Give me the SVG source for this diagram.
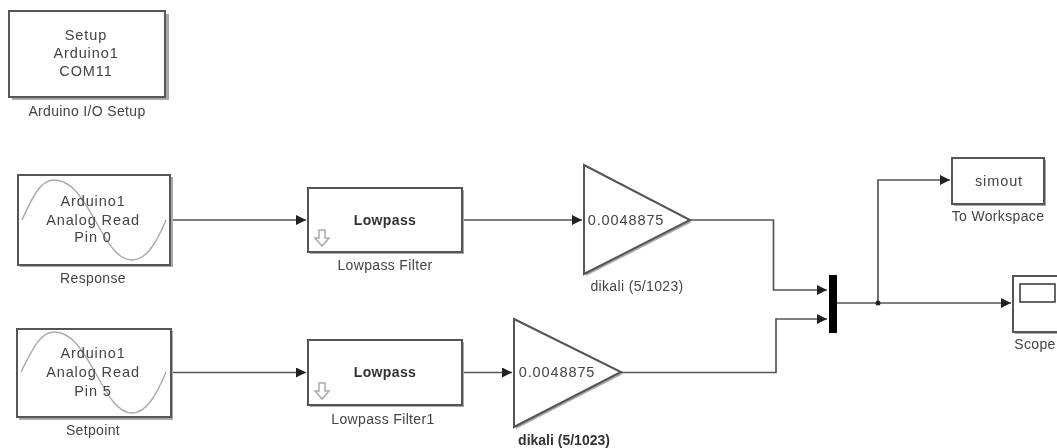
<svg xmlns="http://www.w3.org/2000/svg" width="1057" height="448" viewBox="0 0 1057 448">
<style>
text{font-family:"Liberation Sans",Arial,sans-serif;font-size:14px;letter-spacing:.35px;fill:#444;text-anchor:middle}
.b{fill:#fff;stroke:#555;stroke-width:2}
.s{fill:#aaa;stroke:none}
.w{fill:none;stroke:#555;stroke-width:1.7}
.sine{fill:none;stroke:#aaa;stroke-width:1.4}
.bold{font-weight:bold;fill:#333}
.in{font-size:14.5px;letter-spacing:.9px}
.g{font-size:14.5px;letter-spacing:.9px}
</style>
<defs>
<marker id="a" markerUnits="userSpaceOnUse" markerWidth="11" markerHeight="10" refX="10" refY="5" orient="auto"><path d="M0,0L10,5L0,10Z" fill="#222"/></marker>
<filter id="soft" x="-5%" y="-5%" width="110%" height="110%"><feGaussianBlur stdDeviation="0.75"/></filter>
</defs>
<rect width="1057" height="448" fill="#fff"/>
<g filter="url(#soft)">
<g id="connectors">
<path class="w" marker-end="url(#a)" d="M170,220H306"/>
<path class="w" marker-end="url(#a)" d="M171,372.500H306"/>
<path class="w" marker-end="url(#a)" d="M462,220H582"/>
<path class="w" marker-end="url(#a)" d="M462,372.500H512"/>
<path class="w" marker-end="url(#a)" d="M690,220H773.500V290H827"/>
<path class="w" marker-end="url(#a)" d="M621,372.500H776V319H827"/>
<path class="w" marker-end="url(#a)" d="M837,303H1011"/>
<path class="w" marker-end="url(#a)" d="M878,303V180H950"/>
<circle cx="878" cy="303" r="2.500" fill="#222"/>
</g>
<g id="setup">
<rect class="s" x="12" y="14" width="157" height="86"/>
<rect class="b" x="9" y="11" width="156" height="86"/>
<text x="86" y="40" class="in">Setup</text><text x="86" y="58" class="in">Arduino1</text><text x="86" y="76" class="in">COM11</text>
<text x="87" y="116">Arduino I/O Setup</text>
</g>
<g id="response">
<rect class="s" x="20" y="177" width="153" height="90"/>
<rect class="b" x="18" y="175" width="152" height="90"/>
<path class="sine" d="M22,220C32,198 40,180 54,180C72,180 82,198 95,220C108,244 118,260 132,260C146,260 156,244 166,220"/>
<text x="93" y="206" class="in">Arduino1</text><text x="93" y="225" class="in">Analog Read</text><text x="93" y="242" class="in">Pin 0</text>
<text x="93" y="283">Response</text>
</g>
<g id="setpoint">
<rect class="s" x="19" y="331" width="154" height="89"/>
<rect class="b" x="17" y="329" width="154" height="88"/>
<path class="sine" d="M21,372C32,350 40,332 54,332C72,332 82,350 95,372C108,396 118,413 132,413C146,413 156,396 166,372"/>
<text x="93" y="358" class="in">Arduino1</text><text x="93" y="377" class="in">Analog Read</text><text x="93" y="396" class="in">Pin 5</text>
<text x="93" y="435">Setpoint</text>
</g>
<g id="lowpass">
<rect class="s" x="310" y="190" width="154" height="64"/>
<rect class="b" x="308" y="188" width="154" height="64"/>
<text x="385" y="225" class="bold">Lowpass</text>
<path d="M319,230h6v8h4l-7,8l-7,-8h4z" fill="#fff" stroke="#aaa" stroke-width="1.500"/>
<text x="385" y="270">Lowpass Filter</text>
</g>
<g id="lowpass1">
<rect class="s" x="310" y="342" width="154" height="65"/>
<rect class="b" x="308" y="340" width="154" height="65"/>
<text x="385" y="377" class="bold">Lowpass</text>
<path d="M319,383h6v8h4l-7,8l-7,-8h4z" fill="#fff" stroke="#aaa" stroke-width="1.500"/>
<text x="383" y="424">Lowpass Filter1</text>
</g>
<g id="gain1">
<path class="s" d="M586,168L692,222L586,276Z"/>
<path class="b" d="M584,165L690,220L584,274Z"/>
<text x="626" y="225" class="g">0.0048875</text>
<text x="637" y="291">dikali (5/1023)</text>
</g>
<g id="gain2">
<path class="s" d="M516,322L623,374L516,429Z"/>
<path class="b" d="M514,319L621,372L514,427Z"/>
<text x="557" y="377" class="g">0.0048875</text>
<text x="564" y="445" class="bold" style="letter-spacing:0">dikali (5/1023)</text>
</g>
<g id="mux"><rect x="829" y="275" width="8" height="58" fill="#000"/></g>
<g id="toworkspace">
<rect class="s" x="954" y="160" width="92" height="46"/>
<rect class="b" x="952" y="158" width="92" height="46"/>
<text x="999" y="186" class="in">simout</text>
<text x="998" y="221">To Workspace</text>
</g>
<g id="scope">
<rect class="s" x="1015" y="278" width="44" height="56"/>
<rect class="b" x="1013" y="276" width="46" height="56"/>
<rect x="1020" y="284" width="35" height="18" fill="#fff" stroke="#333" stroke-width="1.500"/>
<text x="1035" y="349">Scope</text>
</g>
</g>
</svg>
